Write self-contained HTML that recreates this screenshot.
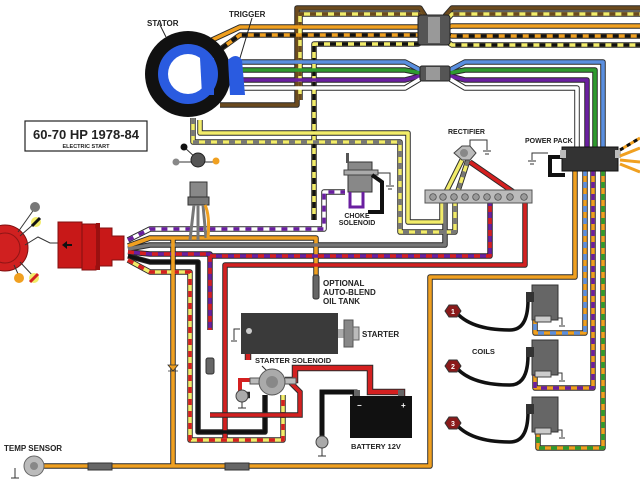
<!DOCTYPE html>
<html><head><meta charset="utf-8"><style>
html,body{margin:0;padding:0;background:#fff;width:640px;height:480px;overflow:hidden}
svg{display:block}
text{font-family:"Liberation Sans",sans-serif;font-weight:bold;fill:#222}
.o{fill:none;stroke:#2a2a2a;stroke-width:5.5;stroke-linejoin:round}
.c{fill:none;stroke-width:3.6;stroke-linejoin:round}
.s{fill:none;stroke-width:3.6;stroke-dasharray:6 6;stroke-linejoin:round}
</style></head><body>
<svg width="640" height="480" viewBox="0 0 640 480" xmlns="http://www.w3.org/2000/svg">
<defs>
<path id="p_br" d="M220 105 H297 V8 H420 L425 16 M445 16 L452 8 H640"/>
<path id="p_bry" d="M300 100 V14 H420 L425 22 M445 22 L452 14 H640"/>
<path id="p_or" d="M212 40 L240 27 H418 L425 28 M445 28 L452 26 H640"/>
<path id="p_ob" d="M222 48 L240 35 H418 L425 34 M445 34 L452 36 H640"/>
<path id="p_by" d="M314 220 V44 H418 L425 40 M445 40 L452 45 H640"/>
<path id="p_bl" d="M240 62 H405 L420 70 M450 70 L465 62 H603 V150"/>
<path id="p_gr" d="M240 70 H405 L420 73 M450 73 L465 70 H595 V150"/>
<path id="p_pu" d="M240 80 H405 L420 76 M450 76 L465 80 H587 V150"/>
<path id="p_wh" d="M240 88 H405 L420 79 M450 79 L465 88 H577 V150"/>
<path id="p_ye" d="M200 120 V133 H408 V222 H442 V200 L462 160"/>
<path id="p_gy" d="M193 118 V142 H400 V232 H455 V200 L468 160"/>
<path id="p_pw" d="M128 240 L150 229 H324 V192 H345"/>
<path id="p_oroil" d="M128 246 L150 238 H316 V280"/>
<path id="p_gray" d="M128 249 L150 245 H445 V200"/>
<path id="p_pr" d="M128 252 L150 254 H210 V330 M210 256 H490 V200"/>
<path id="p_red" d="M225 440 V265 H525 V200 L470 162"/>
<path id="p_blk" d="M128 256 L150 262 H198 V432 H265 V395"/>
<path id="p_yr" d="M128 260 L150 272 H190 V440 H283 V395"/>
<path id="p_ortemp" d="M173 238 V466"/>
<path id="p_ortemp2" d="M35 466 H430 V277 H575 V170"/>
<path id="p_ob1" d="M585 170 V333 H535 V320"/>
<path id="p_op2" d="M593 170 V388 H535 V375"/>
<path id="p_og3" d="M603 170 V448 H538 V432"/>
</defs>

<!-- wires outline -->
<g class="o">
<use href="#p_br"/><use href="#p_bry"/><use href="#p_or"/><use href="#p_ob"/><use href="#p_by"/>
<use href="#p_bl"/><use href="#p_gr"/><use href="#p_pu"/><use href="#p_wh"/>
<use href="#p_ye"/><use href="#p_gy"/><use href="#p_pw"/><use href="#p_oroil"/><use href="#p_gray"/>
<use href="#p_pr"/><use href="#p_red"/><use href="#p_blk"/><use href="#p_yr"/>
<use href="#p_ortemp"/><use href="#p_ortemp2"/><use href="#p_ob1"/><use href="#p_op2"/><use href="#p_og3"/>
</g>
<use href="#p_br" class="c" stroke="#6b4a1e"/>
<use href="#p_bry" class="c" stroke="#f2ec6a"/><use href="#p_bry" class="s" stroke="#6b4a1e"/>
<use href="#p_or" class="c" stroke="#f0a020"/>
<use href="#p_ob" class="c" stroke="#f0a020"/><use href="#p_ob" class="s" stroke="#111"/>
<use href="#p_by" class="c" stroke="#f2ec6a"/><use href="#p_by" class="s" stroke="#111"/>
<use href="#p_bl" class="c" stroke="#5a8fe0"/>
<use href="#p_gr" class="c" stroke="#2e9a2e"/>
<use href="#p_pu" class="c" stroke="#6a1fa0"/>
<use href="#p_wh" class="c" stroke="#fff"/>
<use href="#p_ye" class="c" stroke="#f2ec6a"/>
<use href="#p_gy" class="c" stroke="#f2ec6a"/><use href="#p_gy" class="s" stroke="#777"/>
<use href="#p_pw" class="c" stroke="#fff"/><use href="#p_pw" class="s" stroke="#6a1fa0"/>
<use href="#p_oroil" class="c" stroke="#f0a020"/>
<use href="#p_gray" class="c" stroke="#777"/>
<use href="#p_pr" class="c" stroke="#6a1fa0"/><use href="#p_pr" class="s" stroke="#d42020"/>
<use href="#p_red" class="c" stroke="#d42020"/>
<use href="#p_blk" class="c" stroke="#111"/>
<use href="#p_yr" class="c" stroke="#f2ec6a"/><use href="#p_yr" class="s" stroke="#d42020"/>
<use href="#p_ortemp" class="c" stroke="#f0a020"/>
<use href="#p_ortemp2" class="c" stroke="#f0a020"/>
<use href="#p_ob1" class="c" stroke="#f0a020"/><use href="#p_ob1" class="s" stroke="#5a8fe0"/>
<use href="#p_op2" class="c" stroke="#f0a020"/><use href="#p_op2" class="s" stroke="#6a1fa0"/>
<use href="#p_og3" class="c" stroke="#f0a020"/><use href="#p_og3" class="s" stroke="#2e9a2e"/>

<!-- battery/starter red/black -->
<path d="M248 360 V330 M250 395 H242 M285 380 H295 V368 H370 V392 H402 V398" fill="none" stroke="#2a2a2a" stroke-width="6.5"/>
<path d="M248 360 V330 M285 380 H295 V368 H370 V392 H402 V398" fill="none" stroke="#d42020" stroke-width="4.5"/>
<path d="M322 440 V392 H355 V398" fill="none" stroke="#111" stroke-width="5"/>
<path d="M290 382 L300 392 V415 H210" fill="none" stroke="#2a2a2a" stroke-width="5.5"/>
<path d="M290 382 L300 392 V415 H210" fill="none" stroke="#d42020" stroke-width="3.6"/>
<path d="M240 398 V380 H260" fill="none" stroke="#d42020" stroke-width="4"/>

<!-- harness connectors -->
<rect x="418" y="15" width="32" height="30" rx="3" fill="#555" stroke="#222"/>
<rect x="428" y="17" width="12" height="26" fill="#999"/>
<rect x="420" y="66" width="30" height="15" rx="2" fill="#555" stroke="#222"/>
<rect x="426" y="67" width="14" height="13" fill="#999"/>

<!-- stator -->
<circle cx="188" cy="74" r="43" fill="#111"/>
<circle cx="188" cy="74" r="30" fill="#2a5be0"/>
<circle cx="188" cy="74" r="20" fill="#fff"/>
<path d="M200 58 H214 V95 H202 Z" fill="#2a5be0"/>
<path d="M228 60 Q236 52 242 60 L245 95 H230 Z" fill="#2a5be0"/>
<line x1="160" y1="25" x2="166" y2="37" stroke="#222"/>
<line x1="252" y1="18" x2="240" y2="58" stroke="#222"/>
<text x="147" y="26" font-size="8">STATOR</text>
<text x="229" y="17" font-size="8">TRIGGER</text>

<!-- title -->
<rect x="25" y="121" width="122" height="30" fill="#fff" stroke="#222" stroke-width="1.2"/>
<text x="86" y="139" font-size="13" text-anchor="middle">60-70 HP 1978-84</text>
<text x="86" y="148" font-size="5.5" text-anchor="middle">ELECTRIC START</text>

<!-- key switch and plug -->
<line x1="176" y1="162" x2="216" y2="162" stroke="#333"/>
<line x1="184" y1="147" x2="196" y2="158" stroke="#333"/>
<circle cx="184" cy="147" r="3.5" fill="#111"/>
<circle cx="176" cy="162" r="3.5" fill="#888"/>
<circle cx="216" cy="161" r="3.5" fill="#f0a020"/>
<circle cx="198" cy="160" r="7" fill="#555" stroke="#222"/>
<rect x="190" y="182" width="17" height="15" fill="#888" stroke="#333"/>
<rect x="188" y="197" width="21" height="8" fill="#777" stroke="#333"/>
<path d="M194 205 L190 240 M198 205 V240 M203 205 L206 238" stroke="#777" stroke-width="3" fill="none"/>
<path d="M205 205 Q210 215 208 238" stroke="#f0a020" stroke-width="3" fill="none"/>

<!-- red connector & distributor -->
<circle cx="5" cy="248" r="23" fill="#d02020" stroke="#801010"/>
<circle cx="5" cy="248" r="15" fill="none" stroke="#901515"/>
<line x1="18" y1="232" x2="35" y2="208" stroke="#333"/><line x1="20" y1="236" x2="36" y2="222" stroke="#333"/>
<path d="M25 245 L38 237 L50 243 L58 243" stroke="#333" fill="none"/>
<line x1="14" y1="265" x2="19" y2="276" stroke="#333"/><line x1="20" y1="262" x2="34" y2="277" stroke="#333"/>
<circle cx="35" cy="207" r="5" fill="#777"/>
<circle cx="36" cy="222" r="5" fill="#f2ec6a"/><path d="M32 226 L40 218" stroke="#111" stroke-width="3"/>
<circle cx="19" cy="278" r="5" fill="#f0a020"/>
<circle cx="34" cy="278" r="5" fill="#f2ec6a"/><path d="M30 282 L38 274" stroke="#d42020" stroke-width="3"/>
<rect x="58" y="222" width="24" height="46" fill="#c81818" stroke="#801010"/>
<path d="M82 224 H96 V228 H112 V236 H124 V260 H112 V266 H96 V270 H82 Z" fill="#c81818" stroke="#801010"/>
<rect x="96" y="223" width="4" height="47" fill="#9a1010"/>
<path d="M62 245 L67 241 V249 Z M66 244 H72 V246 H66 Z" fill="#111"/>

<!-- choke solenoid -->
<rect x="348" y="162" width="24" height="30" fill="#888" stroke="#333"/>
<rect x="344" y="170" width="34" height="5" fill="#aaa" stroke="#444"/>
<rect x="346" y="153" width="3" height="10" fill="#555"/>
<path d="M372 175 L382 182 V212 H368" fill="none" stroke="#111" stroke-width="4"/>
<path d="M350 192 V207 H363 V192" fill="none" stroke="#6a1fa0" stroke-width="3"/>
<path d="M378 173 H390 V185 M386 186 H394 M388 189 H392" stroke="#333" fill="none"/>
<text x="357" y="218" font-size="7" text-anchor="middle">CHOKE</text>
<text x="357" y="225" font-size="7" text-anchor="middle">SOLENOID</text>

<!-- rectifier & terminal block -->
<text x="448" y="134" font-size="7">RECTIFIER</text>
<path d="M454 153 L462 146 H470 L476 153 L470 160 H462 Z" fill="#bbb" stroke="#444"/>
<circle cx="464" cy="153" r="4" fill="#888"/>
<path d="M470 146 V140 H487 V150 M483 151 H491 M485 154 H489" stroke="#333" fill="none"/>
<rect x="425" y="190" width="107" height="13" fill="#bbb" stroke="#555"/>
<g fill="#999" stroke="#444" stroke-width="0.7">
<circle cx="433" cy="197" r="3.3"/><circle cx="443" cy="197" r="3.3"/><circle cx="454" cy="197" r="3.3"/><circle cx="465" cy="197" r="3.3"/><circle cx="476" cy="197" r="3.3"/><circle cx="487" cy="197" r="3.3"/><circle cx="498" cy="197" r="3.3"/><circle cx="510" cy="197" r="3.3"/><circle cx="524" cy="197" r="3.3"/></g>

<!-- power pack -->
<text x="525" y="143" font-size="7">POWER PACK</text>
<path d="M548 153 H532 V160 M528 161 H536 M530 164 H534" stroke="#333" fill="none"/>
<path d="M563 157 H550 V175 H565" fill="none" stroke="#111" stroke-width="4"/>
<rect x="562" y="147" width="56" height="24" fill="#333" stroke="#111"/>
<rect x="560" y="150" width="6" height="8" fill="#bbb"/><rect x="615" y="150" width="6" height="8" fill="#bbb"/>
<path d="M620 150 L640 138 M620 156 L640 148 M620 160 L640 162 M620 164 L640 172" stroke="#f0a020" stroke-width="3"/>
<path d="M620 150 L640 138" stroke="#111" stroke-width="3" stroke-dasharray="4 4"/>

<!-- oil tank connector -->
<rect x="313" y="275" width="6" height="24" rx="2" fill="#666" stroke="#333"/>
<text x="323" y="286" font-size="8">OPTIONAL</text>
<text x="323" y="295" font-size="8">AUTO-BLEND</text>
<text x="323" y="304" font-size="8">OIL TANK</text>

<!-- diode & plug on purple-red -->
<path d="M168 365 H178 L173 371 Z M168 371 H178" stroke="#333" fill="#f0a020" stroke-width="0.8"/>
<rect x="206" y="358" width="8" height="16" rx="2" fill="#666" stroke="#333"/>

<!-- starter -->
<rect x="241" y="313" width="97" height="41" fill="#3a3a3a"/>
<rect x="338" y="329" width="8" height="9" fill="#aaa"/>
<rect x="344" y="320" width="9" height="27" fill="#888" stroke="#555"/>
<rect x="353" y="327" width="6" height="13" fill="#bbb" stroke="#666"/>
<text x="362" y="337" font-size="8">STARTER</text>
<circle cx="249" cy="331" r="3" fill="#ccc"/>
<path d="M240 329 H234 V340 M231 341 H237" stroke="#333" fill="none"/>
<text x="255" y="363" font-size="7.5">STARTER SOLENOID</text>
<line x1="262" y1="366" x2="268" y2="372" stroke="#222"/>
<rect x="250" y="378" width="12" height="6" fill="#bbb" stroke="#555"/>
<rect x="284" y="378" width="12" height="6" fill="#bbb" stroke="#555"/>
<circle cx="272" cy="382" r="13" fill="#aaa" stroke="#555"/>
<circle cx="272" cy="382" r="6" fill="#888"/>
<circle cx="242" cy="396" r="6" fill="#aaa" stroke="#444"/>
<path d="M242 402 V408 M238 408 H246" stroke="#333"/>

<!-- battery -->
<rect x="350" y="396" width="62" height="42" fill="#111"/>
<rect x="354" y="390" width="6" height="6" fill="#666"/><rect x="398" y="390" width="6" height="6" fill="#666"/>
<text x="357" y="408" font-size="8" style="fill:#fff">−</text><text x="401" y="408" font-size="8" style="fill:#fff">+</text>
<text x="351" y="449" font-size="7.5">BATTERY 12V</text>
<circle cx="322" cy="442" r="6" fill="#aaa" stroke="#444"/>
<path d="M322 448 V456 M318 456 H326" stroke="#333"/>

<!-- temp sensor -->
<text x="4" y="451" font-size="8">TEMP SENSOR</text>
<circle cx="34" cy="466" r="10" fill="#bbb" stroke="#666"/>
<circle cx="34" cy="466" r="4" fill="#888"/>
<path d="M15 468 V478 M11 478 H19" stroke="#333" fill="none"/>
<rect x="88" y="463" width="24" height="7" fill="#666" stroke="#333"/>
<rect x="225" y="463" width="24" height="7" fill="#666" stroke="#333"/>

<!-- coils -->
<text x="472" y="354" font-size="7.5">COILS</text>
<g>
<path d="M455 311 Q470 330 510 330 Q528 330 528 300" fill="none" stroke="#111" stroke-width="3.5"/>
<polygon points="449,305 457,305 461,311 457,317 449,317 445,311" fill="#8a1a1a" stroke="#333"/>
<text x="453" y="314" font-size="7" text-anchor="middle" style="fill:#fff">1</text>
<rect x="532" y="285" width="26" height="35" fill="#666" stroke="#333"/>
<rect x="526" y="292" width="8" height="10" fill="#333"/>
<rect x="535" y="316" width="16" height="6" fill="#ccc" stroke="#444"/>
<path d="M558 318 H562 V325 M559 326 H565" stroke="#333" fill="none"/>
</g>
<g transform="translate(0,55)">
<path d="M455 311 Q470 330 510 330 Q528 330 528 300" fill="none" stroke="#111" stroke-width="3.5"/>
<polygon points="449,305 457,305 461,311 457,317 449,317 445,311" fill="#8a1a1a" stroke="#333"/>
<text x="453" y="314" font-size="7" text-anchor="middle" style="fill:#fff">2</text>
<rect x="532" y="285" width="26" height="35" fill="#666" stroke="#333"/>
<rect x="526" y="292" width="8" height="10" fill="#333"/>
<rect x="535" y="316" width="16" height="6" fill="#ccc" stroke="#444"/>
<path d="M558 318 H562 V325 M559 326 H565" stroke="#333" fill="none"/>
</g>
<g transform="translate(0,112)">
<path d="M455 311 Q470 330 510 330 Q528 330 528 300" fill="none" stroke="#111" stroke-width="3.5"/>
<polygon points="449,305 457,305 461,311 457,317 449,317 445,311" fill="#8a1a1a" stroke="#333"/>
<text x="453" y="314" font-size="7" text-anchor="middle" style="fill:#fff">3</text>
<rect x="532" y="285" width="26" height="35" fill="#666" stroke="#333"/>
<rect x="526" y="292" width="8" height="10" fill="#333"/>
<rect x="535" y="316" width="16" height="6" fill="#ccc" stroke="#444"/>
<path d="M558 318 H562 V325 M559 326 H565" stroke="#333" fill="none"/>
</g>
</svg>
</body></html>
